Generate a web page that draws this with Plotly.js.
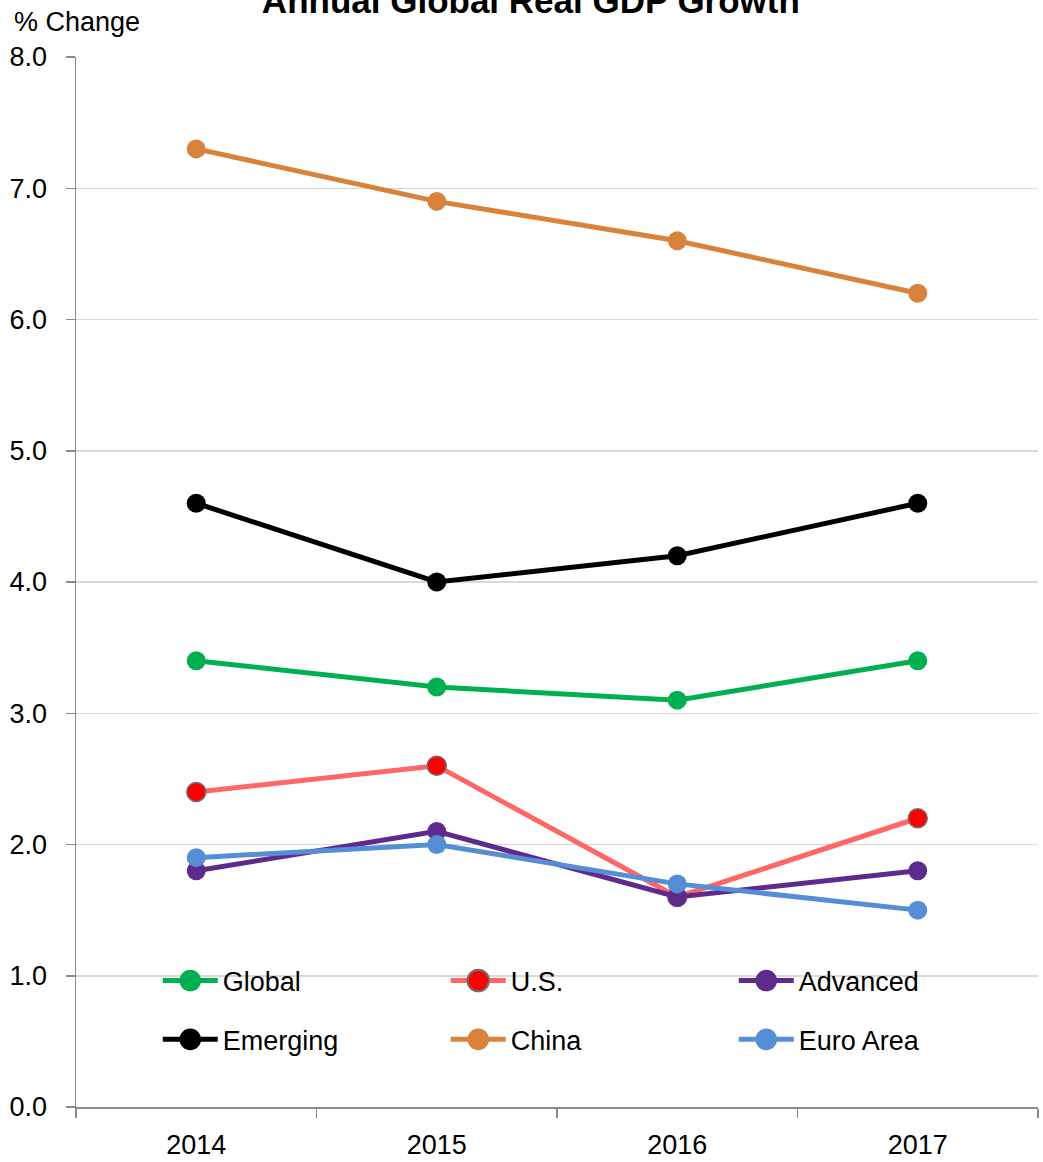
<!DOCTYPE html>
<html>
<head>
<meta charset="utf-8">
<script src="https://cdn.plot.ly/plotly-3.0.1.min.js"></script>
<style>html,body{margin:0;padding:0;background:#fff;}#chart{width:1043px;height:1162px;}</style>
</head>
<body>
<div id="chart"></div>
<script>
const years = ["2014", "2015", "2016", "2017"];
const seriesNames = ["Global", "U.S.", "Advanced", "Emerging", "China", "Euro Area"];
const globalVals   = [3.4, 3.2, 3.1, 3.4];
const usVals       = [2.4, 2.6, 1.6, 2.2];
const advancedVals = [1.8, 2.1, 1.6, 1.8];
const emergingVals = [4.6, 4.0, 4.2, 4.6];
const chinaVals    = [7.3, 6.9, 6.6, 6.2];
const euroVals     = [1.9, 2.0, 1.7, 1.5];
const yTickVals = [0, 1, 2, 3, 4, 5, 6, 7, 8];
const yTickText = ["0.0", "1.0", "2.0", "3.0", "4.0", "5.0", "6.0", "7.0", "8.0"];

const FONT = '"Liberation Sans", Arial, sans-serif';
const FS = 27;

function tr(name, y, lineColor, markerColor, outline, legend) {
  return {
    type: 'scatter', mode: 'lines+markers', name: name, x: years, y: y,
    line: {color: lineColor, width: 5},
    marker: {color: markerColor, size: 19, line: {color: outline || markerColor, width: outline ? 1.5 : 0}},
    legend: legend, cliponaxis: false
  };
}

const data = [
  tr(seriesNames[3], emergingVals, '#000000', '#000000', null, 'legend2'),
  tr(seriesNames[4], chinaVals, '#D9823B', '#D9823B', null, 'legend2'),
  tr(seriesNames[0], globalVals, '#00B050', '#00B050', null, 'legend'),
  tr(seriesNames[1], usVals, '#FF6666', '#FF0000', '#6f6f6f', 'legend'),
  tr(seriesNames[2], advancedVals, '#5F2A8E', '#5F2A8E', null, 'legend'),
  tr(seriesNames[5], euroVals, '#558ED5', '#558ED5', null, 'legend2')
];

const legendCommon = {
  orientation: 'h', xanchor: 'left', yanchor: 'middle',
  font: {family: FONT, size: FS, color: '#000'},
  bgcolor: 'rgba(0,0,0,0)', entrywidth: 218, entrywidthmode: 'pixels',
  itemwidth: 55,
  traceorder: 'normal', itemclick: false
};

const layout = {
  width: 1043, height: 1162,
  margin: {l: 76, r: 5, t: 57, b: 55},
  paper_bgcolor: '#fff', plot_bgcolor: '#fff',
  font: {family: FONT, size: FS, color: '#000'},
  title: {
    text: '<b>Annual Global Real GDP Growth</b>',
    font: {family: '"Liberation Sans", Arial, sans-serif', size: 35, color: '#000'},
    x: 0.509, xanchor: 'center', xref: 'container',
    y: 0.9995, yanchor: 'middle', yref: 'container', pad: {t: 0, b: 0}
  },
  showlegend: true,
  legend: Object.assign({}, legendCommon, {x: 0.085, y: 0.12}),
  legend2: Object.assign({}, legendCommon, {x: 0.085, y: 0.064}),
  xaxis: {
    type: 'category', tickson: 'boundaries',
    showgrid: false, zeroline: false,
    showline: true, linecolor: '#888888', linewidth: 1.5,
    ticks: 'outside', ticklen: 9, tickwidth: 1.5, tickcolor: '#888888',
    tickfont: {family: FONT, size: FS, color: '#000'},
    ticklabelstandoff: 13,
    range: [-0.5, 3.5], fixedrange: true
  },
  yaxis: {
    range: [0, 8], tickvals: yTickVals, ticktext: yTickText,
    showgrid: true, gridcolor: '#D9D9D9', gridwidth: 1.5,
    zeroline: false, showline: true, linecolor: '#888888', linewidth: 1.5,
    ticks: 'outside', ticklen: 9, tickwidth: 1.5, tickcolor: '#888888',
    tickfont: {family: FONT, size: FS, color: '#000'},
    ticklabelstandoff: 13, fixedrange: true
  },
  annotations: [{
    text: '% Change', xref: 'paper', yref: 'paper',
    x: 0.001, y: 1.0333, xanchor: 'center', yanchor: 'middle',
    showarrow: false, font: {family: FONT, size: FS, color: '#000'}
  }]
};

Plotly.newPlot('chart', data, layout, {displayModeBar: false, staticPlot: true}).then(function (gd) {
  // enlarge legend markers to match the reference's symbol size
  gd.querySelectorAll('.legendpoints path.scatterpts').forEach(function (p) {
    const t = p.getAttribute('transform') || '';
    if (t.indexOf('scale') < 0) p.setAttribute('transform', t + ' scale(1.35)');
  });
});
</script>
</body>
</html>
